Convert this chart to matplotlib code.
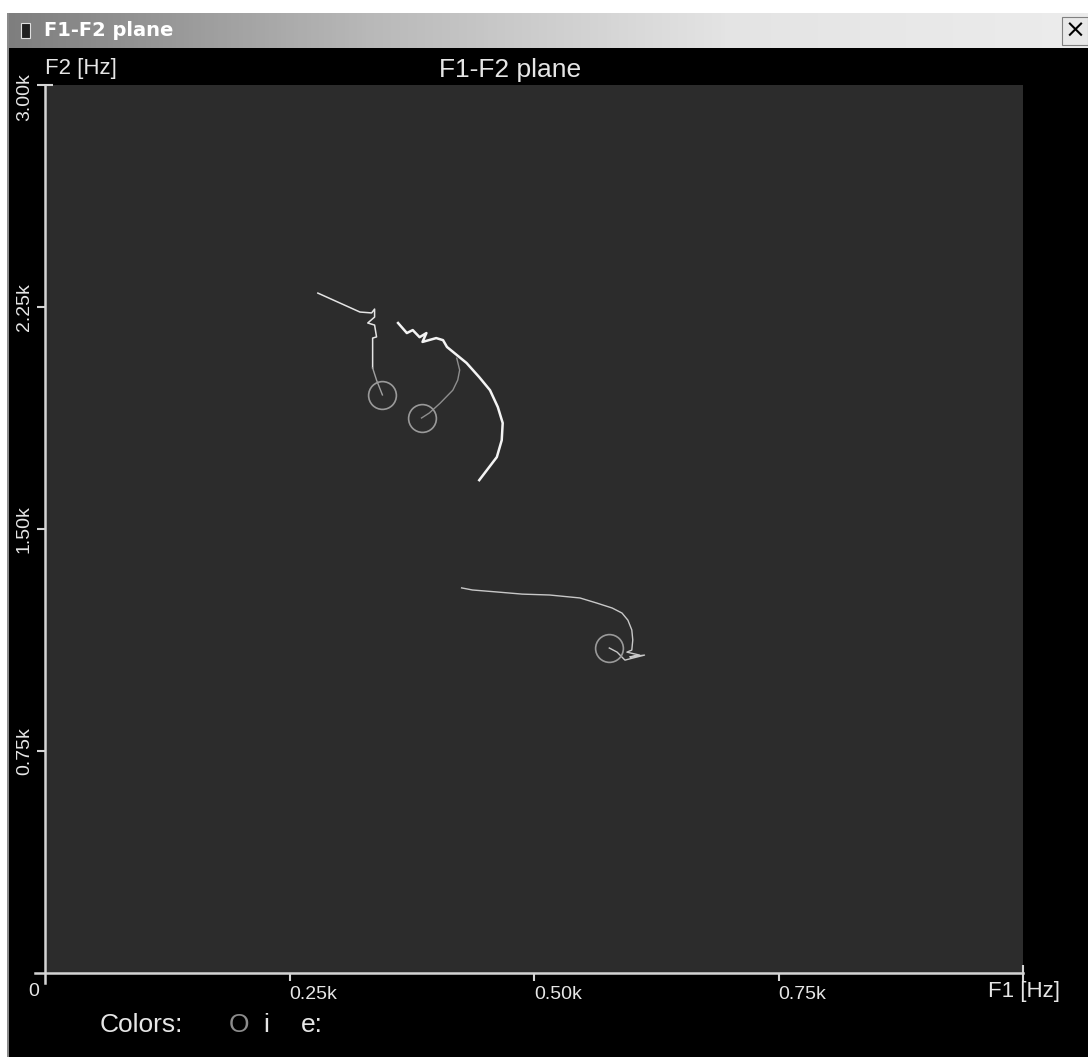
import numpy as np
import matplotlib
matplotlib.use("Agg")
import matplotlib.pyplot as plt
from matplotlib.patches import Rectangle
from matplotlib.lines import Line2D

plt.rcParams['font.family'] = ['Liberation Sans', 'DejaVu Sans']

# formant tracks (F1, F2 in Hz)
a_white_f1 = [279, 322, 334, 337, 337, 330, 337, 339, 335, 335]
a_white_f2 = [2297, 2233, 2230, 2243, 2216, 2196, 2189, 2149, 2145, 2044]
a_gray_f1 = [335, 339, 345]
a_gray_f2 = [2044, 2003, 1953]

b_white_f1 = [361, 370, 376, 383, 390, 386, 400, 407, 411, 421, 431, 444,
              455, 463, 468, 467, 462, 444]
b_white_f2 = [2196, 2162, 2172, 2148, 2162, 2132, 2145, 2138, 2115, 2088,
              2061, 2013, 1969, 1912, 1858, 1800, 1743, 1665]
b_gray_f1 = [421, 424, 422, 417, 404, 393, 385]
b_gray_f2 = [2077, 2037, 2003, 1969, 1925, 1892, 1875]

c_f1 = [426, 437, 463, 488, 516, 547, 564, 580, 590, 596, 600, 601, 600,
        595, 608, 598, 613, 601, 593, 585, 577]
c_f2 = [1301, 1294, 1287, 1280, 1277, 1267, 1250, 1233, 1216, 1192, 1159,
        1125, 1091, 1084, 1074, 1068, 1074, 1064, 1057, 1084, 1098]

circle_f1 = [345, 385, 577]
circle_f2 = [1953, 1875, 1098]

x_ticks = [250, 500, 750]
x_labels = ['0.25k', '0.50k', '0.75k']
y_ticks = [750, 1500, 2250]
y_labels = ['0.75k', '1.50k', '2.25k']

W, H = 1088, 1057


def fx(x):
    return x / W


def fy(y):
    return 1 - y / H


fig = plt.figure(figsize=(W / 100, H / 100), dpi=100, facecolor='black')

# window frame: white margin, title bar, close button
fig.patches.append(Rectangle((0, fy(13)), 1, 13 / H, transform=fig.transFigure,
                             facecolor='white', edgecolor='none', zorder=0))
fig.patches.append(Rectangle((0, 0), fx(7), 1, transform=fig.transFigure,
                             facecolor='white', edgecolor='none', zorder=0))
fig.patches.append(Rectangle((fx(7), 0), fx(1.5), fy(13), transform=fig.transFigure,
                             facecolor='#8a8a8a', edgecolor='none', zorder=1))

bar = fig.add_axes([fx(7), fy(48), 1 - fx(7), 35 / H])
grad = np.linspace(0, 1, 256).reshape(1, -1)
bar.imshow(grad, aspect='auto', cmap=matplotlib.colors.LinearSegmentedColormap.from_list(
    'tb', ['#7e7e7e', '#b8b8b8', '#e4e4e4', '#ececec']), extent=[0, 1, 0, 1])
bar.set_xlim(0, 1)
bar.set_ylim(0, 1)
bar.axis('off')
bar.add_patch(Rectangle((0.013, 0.3), 0.008, 0.42, facecolor='#202020', edgecolor='#e0e0e0', lw=0.8))
bar.text(0.034, 0.5, 'F1-F2 plane', color='white', fontweight='bold', fontsize=14,
         va='center', ha='left', family=['DejaVu Sans'])
bar.add_patch(Rectangle((0.976, 0.1), 0.024, 0.8, facecolor='#e8e8e8', edgecolor='#808080', lw=0.8))
bar.text(0.988, 0.5, '×', color='black', fontsize=18, ha='center', va='center',
         family=['DejaVu Sans'])

# plot area
ax = fig.add_axes([fx(45), fy(973), (1023 - 45) / W, (973 - 85) / H])
ax.set_facecolor('#2c2c2c')
ax.set_xlim(0, 1000)
ax.set_ylim(0, 3000)
for s in ax.spines.values():
    s.set_visible(False)

axcol = '#d4d4d4'
ax.add_line(Line2D([-0.01, 1.0], [0, 0], transform=ax.transAxes, color=axcol,
                   lw=1.8, clip_on=False))
ax.add_line(Line2D([0, 0], [-0.011, 1.0], transform=ax.transAxes, color=axcol,
                   lw=1.8, clip_on=False))

ax.set_xticks(x_ticks)
ax.set_xticklabels([])
ax.set_yticks(y_ticks)
ax.set_yticklabels([])
ax.set_xticks([1000], minor=True)
ax.set_yticks([3000], minor=True)
ax.tick_params(which='major', direction='out', length=6, width=1.5, color=axcol)
ax.tick_params(which='minor', direction='inout', length=12, width=1.5, color=axcol)

lab = dict(color='#e6e6e6', fontsize=14)
for t, l in zip(x_ticks, x_labels):
    ax.annotate(l, (t, 0), xytext=(0, -13), textcoords='offset pixels',
                ha='left', va='top', annotation_clip=False, **lab)
for t, l in zip(y_ticks, y_labels):
    ax.annotate(l, (0, t), xytext=(-12, 0), textcoords='offset pixels', rotation=90,
                ha='right', va='center', annotation_clip=False, **lab)
ax.annotate('3.00k', (0, 3000), xytext=(-12, -12), textcoords='offset pixels', rotation=90,
            ha='right', va='center', annotation_clip=False, **lab)
ax.annotate('0', (0, 0), xytext=(-17, -10), textcoords='offset pixels',
            ha='left', va='top', annotation_clip=False, **lab)

fig.text(fx(45), fy(58), 'F2 [Hz]', color='#e6e6e6', fontsize=16, ha='left', va='top')
fig.text(fx(988), fy(981), 'F1 [Hz]', color='#e6e6e6', fontsize=16, ha='left', va='top')
fig.text(fx(510), fy(58), 'F1-F2 plane', color='#e6e6e6', fontsize=19, ha='center', va='top')

fig.text(fx(100), fy(1013), 'Colors:', color='#e6e6e6', fontsize=19, ha='left', va='top')
fig.text(fx(229), fy(1013), 'O', color='#8c8c8c', fontsize=19, ha='left', va='top')
fig.text(fx(263), fy(1013), 'i', color='#e6e6e6', fontsize=19, ha='left', va='top')
fig.text(fx(301), fy(1013), 'e:', color='#e6e6e6', fontsize=19, ha='left', va='top')

# tracks
ax.plot(a_white_f1, a_white_f2, color='#e4e4e4', lw=1.1)
ax.plot(a_gray_f1, a_gray_f2, color='#a0a0a0', lw=1.0)
ax.plot(b_white_f1, b_white_f2, color='#f4f4f4', lw=1.8)
ax.plot(b_gray_f1, b_gray_f2, color='#8e8e8e', lw=1.0)
ax.plot(c_f1, c_f2, color='#c8c8c8', lw=1.0)
ax.plot(circle_f1, circle_f2, linestyle='none', marker='o', ms=20,
        mfc='none', mec='#9a9a9a', mew=1.2)

fig.savefig('out.png', dpi=100, facecolor='black')
